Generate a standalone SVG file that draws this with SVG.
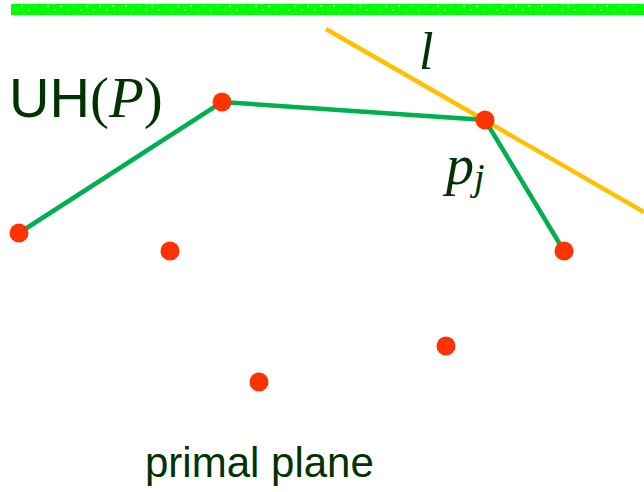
<svg xmlns="http://www.w3.org/2000/svg" width="644" height="492" viewBox="0 0 644 492">
<style>
.lbl{fill:#003300;font-family:"Liberation Sans",Arial,sans-serif}
.math{fill:#003300;font-family:"Liberation Serif","DejaVu Serif",serif;font-style:italic}
.pt{fill:#FF3300}
</style>
<rect width="644" height="492" fill="#ffffff"/>
<g id="band">
<rect x="11" y="4" width="633" height="11" fill="#00FF00"/>
<line x1="11" y1="6" x2="644" y2="6" stroke="#ffffff" stroke-width="1.5" stroke-dasharray="1.5 11.5" stroke-dashoffset="-10.5"/>
<line x1="11" y1="10" x2="644" y2="10" stroke="#ffffff" stroke-width="1.5" stroke-dasharray="1.5 11.5" stroke-dashoffset="-4"/>
</g>
<g id="connectors">
<line id="line-l" x1="326" y1="29" x2="644" y2="212" stroke="#FFC000" stroke-width="4.5"/>
<polyline id="hull" points="19,233 222,102 485,120 564,251" fill="none" stroke="#00B050" stroke-width="4.5"/>
</g>
<g id="points">
<circle class="pt" cx="19" cy="233" r="9.5"/>
<circle class="pt" cx="222" cy="102" r="9.5"/>
<circle class="pt" cx="485" cy="120" r="9.5"/>
<circle class="pt" cx="564" cy="251" r="9.5"/>
<circle class="pt" cx="170" cy="251" r="9.5"/>
<circle class="pt" cx="259" cy="382" r="9.5"/>
<circle class="pt" cx="446" cy="346" r="9.5"/>
</g>
<g id="labels">
<text class="lbl" x="9" y="117" font-size="56">UH<tspan font-family="Liberation Serif,serif" font-size="57">(</tspan><tspan class="math" font-size="57">P</tspan><tspan font-family="Liberation Serif,serif" font-size="57">)</tspan></text>
<text class="math" x="419" y="69" font-size="52">l</text>
<text class="math" x="446" y="184" font-size="56">p<tspan font-size="38" dy="6">j</tspan></text>
<text class="lbl" x="145" y="477" font-size="42">primal plane</text>
</g>
</svg>
